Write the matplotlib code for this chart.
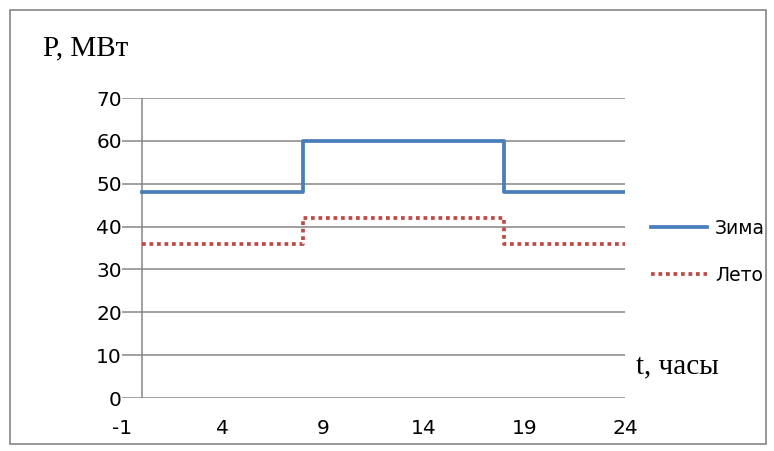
import matplotlib.pyplot as plt
from matplotlib.patches import Rectangle

plt.rcParams['axes.unicode_minus'] = False

# Data: load schedule by hour
hours = [0, 8, 18, 24]
winter = [48, 60, 48, 48]
summer = [36, 42, 36, 36]
x_ticks = [-1, 4, 9, 14, 19, 24]
y_ticks = [0, 10, 20, 30, 40, 50, 60, 70]

fig = plt.figure(figsize=(7.74, 4.51), dpi=100)
ax = fig.add_axes([122 / 774, 53 / 451, 503 / 774, 300 / 451])

# Outer frame
fig.patches.append(Rectangle((10 / 774, 7 / 451), 756 / 774, 434 / 451,
                             transform=fig.transFigure, fill=False,
                             edgecolor='#868686', linewidth=1.2))

grid_color = '#868686'
for y in y_ticks:
    ax.axhline(y, color=grid_color, linewidth=1.1, zorder=1)
ax.axvline(0, color=grid_color, linewidth=1.1, zorder=1)

ax.step(hours, winter, where='post', color='#4A7EBB', linewidth=2.7,
        label='Зима', zorder=3)
ax.step(hours, summer, where='post', color='#BE4B48', linewidth=2.7,
        linestyle=(0, (1, 1)), label='Лето', zorder=3)

ax.set_xlim(-1, 24)
ax.set_ylim(0, 70)
ax.set_xticks(x_ticks)
ax.set_yticks(y_ticks)
ax.tick_params(axis='both', length=0, labelsize=14.5)
ax.tick_params(axis='x', pad=15)
ax.tick_params(axis='y', pad=0)
for s in ax.spines.values():
    s.set_visible(False)

fig.text(43 / 774, 1 - 48 / 451, 'P, МВт', family='Liberation Serif',
         fontsize=21, va='center', ha='left')
fig.text(636 / 774, 1 - 366 / 451, 't, часы', family='Liberation Serif',
         fontsize=21, va='center', ha='left')

fig.legend(loc='upper left', bbox_to_anchor=(634 / 774, 1 - 202 / 451),
           frameon=False, fontsize=13.5, handlelength=3.0, handletextpad=0.43,
           labelspacing=1.5)

fig.savefig('out.png', dpi=100)
